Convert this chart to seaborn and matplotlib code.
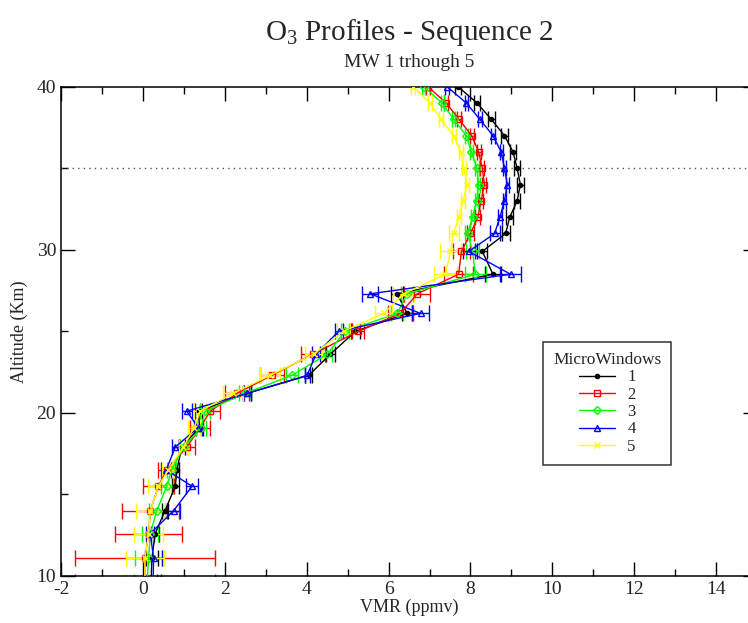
import numpy as np
import pandas as pd
import matplotlib
matplotlib.use("Agg")
import matplotlib.pyplot as plt
import seaborn as sns

# === 1. Data ===
alt = [9.6, 11.1, 12.6, 14.0, 15.5, 16.5, 17.9, 19.1, 20.1, 21.2, 22.3, 23.6, 25.0,
       26.1, 27.3, 28.5, 29.9, 31, 32, 33, 34, 35, 36, 37, 38, 39, 40]

mw1 = [0.20, 0.22, 0.30, 0.54, 0.79, 0.83, 0.95, 1.38, 1.36, 2.55, 4.05, 4.58, 5.19,
       6.45, 6.21, 8.55, 8.29, 8.86, 8.96, 9.14, 9.22, 9.14, 9.04, 8.83, 8.51, 8.16, 7.70]
mw2 = [0.05, 0.05, 0.14, 0.18, 0.38, 0.58, 1.07, 1.40, 1.64, 2.30, 3.15, 4.15, 5.26,
       6.29, 6.70, 7.71, 7.78, 8.00, 8.18, 8.26, 8.34, 8.29, 8.20, 8.03, 7.72, 7.41, 6.96]
mw3 = [0.10, 0.14, 0.18, 0.34, 0.58, 0.70, 1.00, 1.42, 1.52, 2.50, 3.64, 4.50, 4.94,
       6.21, 6.45, 8.12, 8.05, 7.93, 8.05, 8.15, 8.20, 8.16, 8.02, 7.90, 7.59, 7.31, 6.86]
mw4 = [0.25, 0.26, 0.18, 0.75, 1.20, 0.57, 0.79, 1.35, 1.07, 2.55, 4.01, 4.23, 4.78,
       6.78, 5.55, 8.98, 7.96, 8.59, 8.72, 8.83, 8.90, 8.83, 8.75, 8.55, 8.23, 7.90, 7.43]
mw5 = [0.05, 0.05, 0.14, 0.18, 0.38, 0.62, 0.99, 1.25, 1.40, 2.20, 3.11, 4.17, 4.90,
       5.88, 6.37, 7.39, 7.51, 7.59, 7.72, 7.82, 7.92, 7.84, 7.76, 7.59, 7.28, 7.01, 6.60]

err1 = [0.15, 0.15, 0.10, 0.08, 0.08, 0.06, 0.08, 0.08, 0.08, 0.10, 0.08, 0.10, 0.10,
        0.12, 0.15, 0.20, 0.12, 0.10, 0.08, 0.08, 0.08, 0.08, 0.08, 0.08, 0.08, 0.08, 0.08]
err2 = [1.70, 1.70, 0.82, 0.69, 0.37, 0.20, 0.20, 0.25, 0.25, 0.30, 0.30, 0.30, 0.15,
        0.30, 0.32, 0.35, 0.20, 0.08, 0.06, 0.05, 0.05, 0.05, 0.05, 0.05, 0.05, 0.05, 0.05]
err3 = [0.33, 0.33, 0.20, 0.20, 0.15, 0.10, 0.10, 0.12, 0.12, 0.15, 0.15, 0.12, 0.10,
        0.15, 0.15, 0.25, 0.15, 0.07, 0.04, 0.04, 0.04, 0.04, 0.04, 0.04, 0.04, 0.04, 0.04]
err4 = [0.20, 0.20, 0.10, 0.15, 0.15, 0.12, 0.08, 0.10, 0.12, 0.08, 0.06, 0.10, 0.10,
        0.20, 0.20, 0.25, 0.15, 0.12, 0.04, 0.04, 0.04, 0.04, 0.04, 0.04, 0.04, 0.04, 0.04]
err5 = [0.47, 0.47, 0.35, 0.35, 0.25, 0.15, 0.12, 0.15, 0.15, 0.25, 0.25, 0.20, 0.15,
        0.20, 0.25, 0.28, 0.25, 0.12, 0.05, 0.05, 0.05, 0.05, 0.05, 0.05, 0.05, 0.05, 0.05]

labels = ["1", "2", "3", "4", "5"]
colors = ["black", "#ff0000", "#00ff00", "#0000ff", "#ffff00"]
markers = ["o", "s", "D", "^", "x"]

series = [mw1, mw2, mw3, mw4, mw5]
errors = [err1, err2, err3, err4, err5]

# === 2. Style ===
sns.set_style("ticks")
plt.rcParams["font.family"] = ["Liberation Serif", "DejaVu Serif"]
plt.rcParams["mathtext.fontset"] = "custom"
plt.rcParams["mathtext.rm"] = "Liberation Serif"
plt.rcParams["axes.unicode_minus"] = False

fig = plt.figure(figsize=(7.48, 6.23), dpi=100)
ax = fig.add_axes([0.0816, 0.0756, 0.9305, 0.7852])

# === 3. Profiles ===
for lab, col, mk, vals, err in zip(labels, colors, markers, series, errors):
    df = pd.DataFrame({"vmr": vals, "alt": alt})
    ax.errorbar(df["vmr"], df["alt"], xerr=err, fmt="none", ecolor=col,
                elinewidth=1.0, capsize=6, capthick=1.0, zorder=2)
    sns.lineplot(data=df, x="vmr", y="alt", sort=False, estimator=None, ax=ax,
                 color=col, marker=mk, markersize=4 if mk != "o" else 3,
                 markerfacecolor="none" if mk != "o" else col,
                 markeredgecolor=col, markeredgewidth=1.0, linewidth=1.0,
                 label=lab, zorder=3)

ax.axhline(35, color="#555555", linestyle=(0, (1, 3)), linewidth=1.0, zorder=1)

ax.set_xlim(-2, 15)
ax.set_ylim(10, 40)
ax.set_xticks(np.arange(-2, 15, 2))
ax.set_xticks(np.arange(-2, 16, 1), minor=True)
ax.set_yticks([10, 20, 30, 40])
ax.set_yticks([15, 25, 35], minor=True)
ax.tick_params(which="both", direction="in", top=True, right=True, width=1.0,
               labelsize=14, color="black")
ax.tick_params(which="major", length=10)
ax.tick_params(which="minor", length=5)
for sp in ax.spines.values():
    sp.set_linewidth(1.1)
    sp.set_color("black")

ax.set_xlabel("VMR (ppmv)", fontsize=13, labelpad=1)
ax.set_ylabel("Altitude (Km)", fontsize=13, labelpad=6)

fig.text(0.547, 0.948, r"O$_3$ Profiles - Sequence 2", ha="center", va="center", fontsize=21)
fig.text(0.547, 0.900, "MW 1 trhough 5", ha="center", va="center", fontsize=14)

leg = ax.legend(title="MicroWindows", loc="upper left", bbox_to_anchor=(0.6925, 0.478),
                borderaxespad=0, fontsize=12, title_fontsize=12.5, frameon=True,
                fancybox=False, edgecolor="black", handlelength=2.2, labelspacing=0.08,
                borderpad=0.6, handletextpad=0.7, markerfirst=True)
leg.get_frame().set_linewidth(1.1)
leg._legend_box.align = "center"

fig.savefig("out.png", dpi=100)
